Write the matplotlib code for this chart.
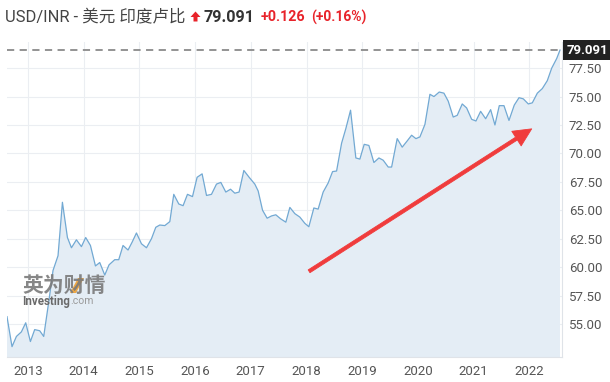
import matplotlib.pyplot as plt
import matplotlib.patches as mpatches
import numpy as np

# USD/INR monthly closes (decimal year, rate)
years = [2012.623, 2012.713, 2012.792, 2012.881, 2012.959, 2013.043, 2013.120, 2013.210,
         2013.282, 2013.377, 2013.449, 2013.539, 2013.618, 2013.708, 2013.780, 2013.869,
         2013.959, 2014.036, 2014.121, 2014.211, 2014.288, 2014.378, 2014.455, 2014.557,
         2014.629, 2014.706, 2014.796, 2014.870, 2014.947, 2015.037, 2015.127, 2015.217,
         2015.294, 2015.366, 2015.456, 2015.546, 2015.617, 2015.707, 2015.784, 2015.863,
         2015.953, 2016.036, 2016.126, 2016.205, 2016.294, 2016.384, 2016.462, 2016.551,
         2016.636, 2016.713, 2016.790, 2016.875, 2016.970, 2017.072, 2017.132, 2017.211,
         2017.293, 2017.372, 2017.449, 2017.534, 2017.629, 2017.701, 2017.791, 2017.880,
         2017.970, 2018.042, 2018.132, 2018.209, 2018.299, 2018.389, 2018.468, 2018.540,
         2018.630, 2018.707, 2018.791, 2018.886, 2018.958, 2019.036, 2019.120, 2019.210,
         2019.300, 2019.377, 2019.467, 2019.528, 2019.628, 2019.718, 2019.808, 2019.887,
         2019.964, 2020.036, 2020.126, 2020.216, 2020.288, 2020.383, 2020.467, 2020.544,
         2020.634, 2020.706, 2020.796, 2020.875, 2020.965, 2021.042, 2021.126, 2021.216,
         2021.306, 2021.383, 2021.461, 2021.545, 2021.635, 2021.730, 2021.815, 2021.892,
         2021.982, 2022.054, 2022.144, 2022.233, 2022.323, 2022.402, 2022.492, 2022.551]
rates = [55.64, 53.00, 53.90, 54.30, 55.10, 53.45, 54.50, 54.40,
         53.90, 57.10, 59.70, 61.00, 65.70, 62.60, 61.70, 62.40,
         61.80, 62.60, 61.90, 60.10, 60.40, 59.30, 60.20, 60.65,
         60.65, 61.90, 61.50, 62.20, 63.00, 62.05, 61.70, 62.50,
         63.50, 63.70, 63.65, 64.00, 66.40, 65.55, 65.40, 66.40,
         66.20, 67.90, 68.20, 66.30, 66.40, 67.30, 67.45, 66.60,
         66.85, 66.50, 66.60, 68.50, 67.90, 67.30, 66.70, 65.00,
         64.30, 64.50, 64.60, 64.25, 63.95, 65.25, 64.70, 64.40,
         63.85, 63.55, 65.20, 65.10, 66.60, 67.40, 68.40, 68.45,
         70.90, 72.20, 73.80, 69.60, 69.50, 70.80, 70.70, 69.20,
         69.60, 69.40, 68.80, 68.80, 71.30, 70.55, 71.10, 71.60,
         71.30, 71.45, 72.55, 75.20, 75.00, 75.40, 75.30, 74.60,
         73.20, 73.35, 74.35, 74.00, 73.00, 72.85, 73.70, 73.05,
         73.85, 72.50, 74.20, 74.20, 72.90, 74.25, 74.90, 74.80,
         74.35, 74.45, 75.30, 75.70, 76.40, 77.50, 78.35, 79.09]

last_price = 79.091
change = "+0.126"
change_pct = "(+0.16%)"
year_ticks = [2013, 2014, 2015, 2016, 2017, 2018, 2019, 2020, 2021, 2022]
rate_ticks = [55.0, 57.5, 60.0, 62.5, 65.0, 67.5, 70.0, 72.5, 75.0, 77.5]

plt.rcParams['font.family'] = ['Roboto', 'Noto Sans CJK SC', 'DejaVu Sans']

W, H = 610, 382
fig = plt.figure(figsize=(W / 100, H / 100), dpi=100)
# axes box in pixels: left 7, right 562, top 42, bottom 357
ax = fig.add_axes([7 / W, (H - 357) / H, (562 - 7) / W, (357 - 42) / H])

ax.fill_between(years, rates, 40, color='#e4edf5', lw=0, zorder=1)
ax.plot(years, rates, color='#72a9d3', lw=0.9, zorder=3)
ax.axhline(last_price, color='#8a8a8a', lw=1.3, dashes=(4, 3), zorder=4)

ax.set_xlim(2012.623, 2022.587)
ax.set_ylim(52.09, 79.80)
ax.set_xticks(year_ticks)
ax.set_xticklabels([str(y) for y in year_ticks])
ax.set_yticks(rate_ticks)
ax.set_yticklabels(['%.2f' % v for v in rate_ticks])
ax.yaxis.tick_right()
ax.tick_params(length=0, labelsize=9.5, colors='#555555')
ax.tick_params(axis='y', pad=5)
ax.tick_params(axis='x', pad=6)
ax.grid(True, color='#ebeef2', lw=0.8, zorder=0)
ax.set_axisbelow(True)
for s in ['top', 'left']:
    ax.spines[s].set_visible(False)
for s in ['right', 'bottom']:
    ax.spines[s].set_color('#dfe3e8')
    ax.spines[s].set_linewidth(0.8)

# last price tag on the right axis
ax.annotate('%.3f' % last_price, xy=(1.0, last_price), xycoords=('axes fraction', 'data'),
            xytext=(3, 0), textcoords='offset points', ha='left', va='center',
            fontsize=9.5, fontweight='bold', color='white',
            bbox=dict(boxstyle='square,pad=0.25', fc='#222222', ec='none'),
            annotation_clip=False, zorder=6)

# red trend arrow
ax.annotate('', xy=(2022.043, 72.16), xytext=(2018.046, 59.63),
            arrowprops=dict(arrowstyle='simple,head_length=1.3,head_width=1.25,tail_width=0.24',
                            fc='#f03c3c', ec='#f03c3c', lw=0.6, shrinkA=0, shrinkB=0), zorder=7)

# watermark
fig.text(22 / W, 1 - 285 / H, '英为财情', fontsize=15, fontweight='bold', color='#7a7a7a',
         family=['Noto Sans CJK SC'], va='center', ha='left', alpha=0.9)
fig.add_artist(mpatches.Polygon([[70 / W, 1 - 293 / H], [76 / W, 1 - 293 / H],
                                 [84 / W, 1 - 278 / H], [78 / W, 1 - 278 / H]],
                                closed=True, fc='#f0a030', ec='none', alpha=0.9,
                                transform=fig.transFigure))
t_inv = fig.text(22 / W, 1 - 301 / H, 'Investing', fontsize=8.3, fontweight='bold',
                 color='#6a6a6a', va='center', ha='left')
fig.canvas.draw()
bb = t_inv.get_window_extent()
fig.text(bb.x1 / W, 1 - 301 / H, '.com', fontsize=7.5, color='#9a9a9a', va='center', ha='left')

# header line
fig.text(5 / W, 1 - 17 / H, 'USD/INR - 美元 印度卢比', fontsize=11.9, color='#444444',
         va='center', ha='left')
fig.add_artist(mpatches.Polygon([[190.5 / W, 1 - 17 / H], [195.5 / W, 1 - 11.5 / H],
                                 [200.5 / W, 1 - 17 / H], [197.5 / W, 1 - 17 / H],
                                 [197.5 / W, 1 - 21.5 / H], [193.5 / W, 1 - 21.5 / H],
                                 [193.5 / W, 1 - 17 / H]],
                                closed=True, fc='#e8232a', ec='none',
                                transform=fig.transFigure))
fig.text(203 / W, 1 - 17 / H, '%.3f' % last_price, fontsize=11.6, fontweight='bold',
         color='#333333', va='center', ha='left')
fig.text(261 / W, 1 - 17 / H, change, fontsize=10.3, fontweight='bold', color='#e8232a',
         va='center', ha='left')
fig.text(311 / W, 1 - 17 / H, change_pct, fontsize=10, fontweight='bold', color='#e8232a',
         va='center', ha='left')

fig.savefig('out.png', dpi=100)
